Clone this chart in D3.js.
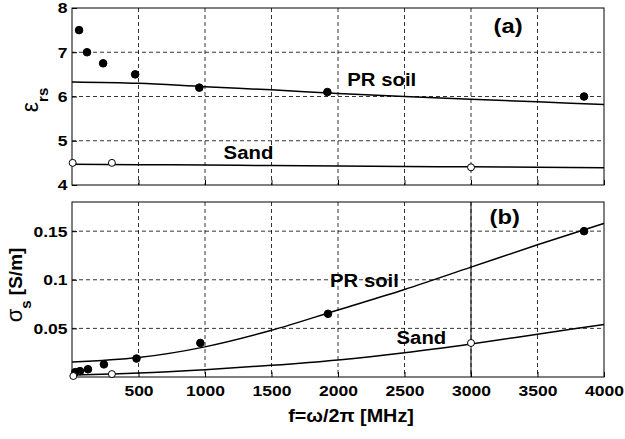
<!DOCTYPE html>
<html>
<head>
<meta charset="utf-8">
<script src="https://cdn.jsdelivr.net/npm/d3@7"></script>
<style>
  body { margin: 0; background: #fff; }
  text { font-family: "Liberation Sans", Arial, sans-serif; font-weight: bold; fill: #000; }
</style>
</head>
<body>
<div class="svg"></div>
<script>
// measured points, panel (a): relative permittivity
const soilEpsFreq = [53, 113, 234, 475, 957, 1920, 3850];
const soilEps = [7.5, 7.0, 6.75, 6.5, 6.2, 6.1, 6.0];
const sandEpsFreq = [5, 300, 3000];
const sandEps = [4.5, 4.5, 4.4];

// measured points, panel (b): conductivity
const soilSigFreq = [25, 60, 120, 240, 485, 965, 1925, 3850];
const soilSig = [0.005, 0.006, 0.008, 0.013, 0.019, 0.035, 0.065, 0.15];
const sandSigFreq = [10, 300, 3000];
const sandSig = [0.001, 0.003, 0.035];

// model curves
const fitFreq = [0, 500, 1000, 1500, 2000, 2500, 3000, 3500, 4000];
const soilEpsFit = [6.33, 6.30, 6.22, 6.15, 6.07, 6.0, 5.94, 5.88, 5.82];
const sandEpsFit = [4.47, 4.46, 4.45, 4.44, 4.43, 4.42, 4.41, 4.40, 4.39];
const soilSigFit = [0.0155, 0.02, 0.031, 0.048, 0.069, 0.09, 0.113, 0.136, 0.158];
const sandSigFit = [0.002, 0.004, 0.0075, 0.012, 0.0176, 0.025, 0.034, 0.044, 0.054];

// ticks
const xTicks = [500, 1000, 1500, 2000, 2500, 3000, 3500, 4000];
const epsTicks = [4, 5, 6, 7, 8];
const sigTicks = [0.05, 0.1, 0.15];
const sigTickLabels = ["0.05", "0.1", "0.15"];

const w = 625, h = 439;
const left = 72, right = 604;
const sx = 1.13; // text is a little wide in the original

let svg = d3.select(".svg").append("svg").attr("width", w).attr("height", h);

let x = d3.scaleLinear().domain([0, 4000]).range([left, right]);
let yA = d3.scaleLinear().domain([4, 8]).range([185, 8]);
let yB = d3.scaleLinear().domain([0, 0.18]).range([377, 202]);

let zip = (xs, ys) => xs.map((d, i) => [d, ys[i]]);

let label = (str, px, py, size, anchor) => {
    return svg.append("text").text(str)
        .attr("transform", "translate(" + px + "," + py + ") scale(" + sx + ",1)")
        .attr("font-size", size)
        .attr("text-anchor", anchor || "start");
};

let drawPanel = (y, yTicks, yFormat, showX) => {
    let top = y.range()[1], bot = y.range()[0];
    let g = svg.append("g");

    // dashed grid
    g.selectAll(".vg").data(xTicks.filter(d => d < 4000)).enter().append("line")
        .attr("x1", d => x(d)).attr("x2", d => x(d)).attr("y1", top).attr("y2", bot)
        .attr("stroke", "#000").attr("stroke-width", 0.8).attr("stroke-dasharray", "4,3");
    g.selectAll(".hg").data(yTicks.filter(d => d > y.domain()[0] && d < y.domain()[1])).enter().append("line")
        .attr("x1", left).attr("x2", right).attr("y1", d => y(d)).attr("y2", d => y(d))
        .attr("stroke", "#000").attr("stroke-width", 0.8).attr("stroke-dasharray", "4,3");

    const yAxis = d3.axisLeft(y).tickValues(yTicks).tickFormat(yFormat).tickSizeInner(-5).tickSizeOuter(0).tickPadding(4);
    let ya = g.append("g").attr("transform", "translate(" + left + ",0)").call(yAxis);
    ya.select(".domain").remove();
    ya.selectAll("text").attr("font-size", 15.5).attr("transform", "scale(" + sx + ",1)")
        .attr("font-family", "Liberation Sans, Arial, sans-serif");

    const xAxis = d3.axisBottom(x).tickValues(xTicks).tickFormat(showX ? d3.format("d") : "").tickSizeInner(-5).tickSizeOuter(0).tickPadding(8);
    let xa = g.append("g").attr("transform", "translate(0," + bot + ")").call(xAxis);
    xa.select(".domain").remove();
    xa.selectAll("text").attr("font-size", 15.5).attr("transform", "scale(" + sx + ",1)")
        .attr("font-family", "Liberation Sans, Arial, sans-serif");

    g.append("rect").attr("x", left).attr("y", top).attr("width", right - left).attr("height", bot - top)
        .attr("fill", "none").attr("stroke", "#000").attr("stroke-width", 1);
    return g;
};

let drawCurve = (y, vals) => {
    let line = d3.line().x(d => x(d[0])).y(d => y(d[1])).curve(d3.curveMonotoneX);
    svg.append("path").datum(zip(fitFreq, vals)).attr("d", line)
        .attr("fill", "none").attr("stroke", "#000").attr("stroke-width", 1.5);
};

let drawPoints = (y, xs, ys, filled) => {
    svg.append("g").selectAll("circle").data(zip(xs, ys)).enter().append("circle")
        .attr("cx", d => x(d[0])).attr("cy", d => y(d[1]))
        .attr("r", filled ? 3.8 : 3.5)
        .attr("fill", filled ? "#000" : "#fff")
        .attr("stroke", "#000").attr("stroke-width", 1);
};

// panel (a)
drawPanel(yA, epsTicks, d3.format("d"), false);
drawCurve(yA, soilEpsFit);
drawCurve(yA, sandEpsFit);
drawPoints(yA, soilEpsFreq, soilEps, true);
drawPoints(yA, sandEpsFreq, sandEps, false);
label("PR soil", x(2070), yA(6.24), 18);
label("Sand", x(1140), yA(4.59), 18);
label("(a)", x(3170), yA(7.43), 21);

// panel (b)
drawPanel(yB, sigTicks, (d, i) => sigTickLabels[i], true);
svg.append("line").attr("x1", x(3000)).attr("x2", x(3000)).attr("y1", yB(0.18)).attr("y2", yB(0))
    .attr("stroke", "#000").attr("stroke-width", 1);
drawCurve(yB, soilSigFit);
drawCurve(yB, sandSigFit);
drawPoints(yB, soilSigFreq, soilSig, true);
drawPoints(yB, sandSigFreq, sandSig, false);
label("PR soil", x(1940), yB(0.093), 18);
label("Sand", x(2440), yB(0.0335), 18);
label("(b)", x(3140), yB(0.157), 21);

// axis titles
label("f=\u03c9/2\u03c0 [MHz]", 351, 422, 17.5, "middle");

let epsLab = svg.append("text").attr("transform", "translate(38,100) rotate(-90)")
    .attr("text-anchor", "middle").attr("font-size", 17);
epsLab.append("tspan").text("\u03b5").attr("font-weight", "normal").attr("font-size", 23);
epsLab.append("tspan").text("rs").attr("font-size", 15).attr("dy", 10);

let sigLab = svg.append("text").attr("transform", "translate(22,285) rotate(-90)")
    .attr("text-anchor", "middle").attr("font-size", 19);
sigLab.append("tspan").text("\u03c3").attr("font-weight", "normal").attr("font-size", 22);
sigLab.append("tspan").text("s").attr("font-size", 15).attr("dy", 9);
sigLab.append("tspan").text(" [S/m]").attr("dy", -9);
</script>
</body>
</html>
